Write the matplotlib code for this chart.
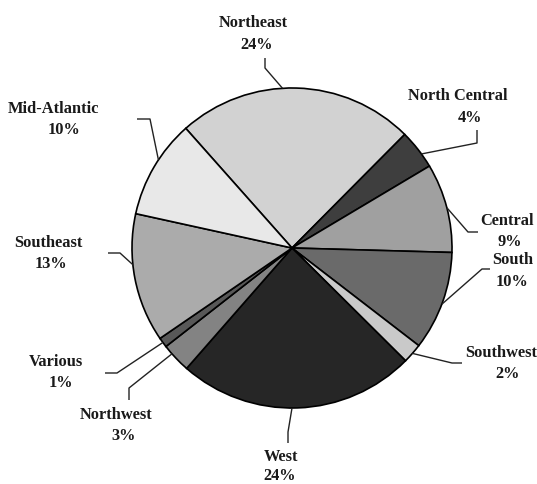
import numpy as np
import matplotlib
matplotlib.use("Agg")
import matplotlib.pyplot as plt

plt.rcParams['font.family'] = ['Liberation Serif', 'DejaVu Serif']

# data: share of each region, clockwise from Northeast
regions = ['Northeast', 'North Central', 'Central', 'South', 'Southwest',
           'West', 'Northwest', 'Various', 'Southeast', 'Mid-Atlantic']
shares = [24, 4, 9, 10, 2, 24, 3, 1, 13, 10]
colors = ['#d2d2d2', '#3e3e3e', '#a0a0a0', '#6a6a6a', '#c9c9c9',
          '#262626', '#838383', '#585858', '#ababab', '#e8e8e8']

W, H = 537, 484
CX, CY, R = 292, 248, 160      # pie centre / radius in pixels (y down)
START = 131.6

# label layout in pixels (y down): name centre, pct centre, stub start, knee, edge angle tweak
name_xy = [(253, 23), (458, 96), (507, 221), (513, 260), (501, 353),
           (281, 457), (116, 415), (56, 362), (48, 243), (54, 109)]
pct_xy = [(257, 45), (470, 118), (510, 242), (512, 282), (508, 374),
          (280, 476), (124, 436), (61, 383), (51, 264), (64, 130)]
stub = [(265, 58), (477, 130), (478, 232), (490, 269), (462, 363),
        (288, 443), (129, 400), (105, 373), (108, 253), (137, 119)]
knee = [(265, 68), (477, 143), (468, 232), (482, 269), (452, 363),
        (288, 432), (129, 388), (117, 373), (120, 253), (150, 119)]
ang_tweak = [5, -2, 0, -1, 0, -2, -2, 0, -5, -3]


def to_data(p):
    return p[0], H - p[1]


fig = plt.figure(figsize=(W / 100, H / 100), dpi=100)
ax = fig.add_axes([0, 0, 1, 1])
ax.pie(shares, colors=colors, startangle=START, counterclock=False,
       center=(CX, H - CY), radius=R,
       wedgeprops=dict(edgecolor='black', linewidth=1.2))
ax.set_xlim(0, W)
ax.set_ylim(0, H)
ax.set_aspect('equal')
ax.axis('off')

total = sum(shares)
acc = 0
for i, (name, v) in enumerate(zip(regions, shares)):
    mid = START - 360 * (acc + v / 2) / total + ang_tweak[i]
    acc += v
    ex = CX + R * np.cos(np.radians(mid))
    ey = (H - CY) + R * np.sin(np.radians(mid))
    xs = [to_data(stub[i])[0], to_data(knee[i])[0], ex]
    ys = [to_data(stub[i])[1], to_data(knee[i])[1], ey]
    ax.plot(xs, ys, color='#222222', lw=1.0, solid_capstyle='butt')
    tx, ty = to_data(name_xy[i])
    ax.text(tx, ty, name, ha='center', va='center', fontsize=11.8,
            fontweight='bold', color='#1a1a1a')
    px, py = to_data(pct_xy[i])
    ax.text(px, py, f'{v}%', ha='center', va='center', fontsize=11.8,
            fontweight='bold', color='#1a1a1a')

fig.savefig('out.png', dpi=100)
